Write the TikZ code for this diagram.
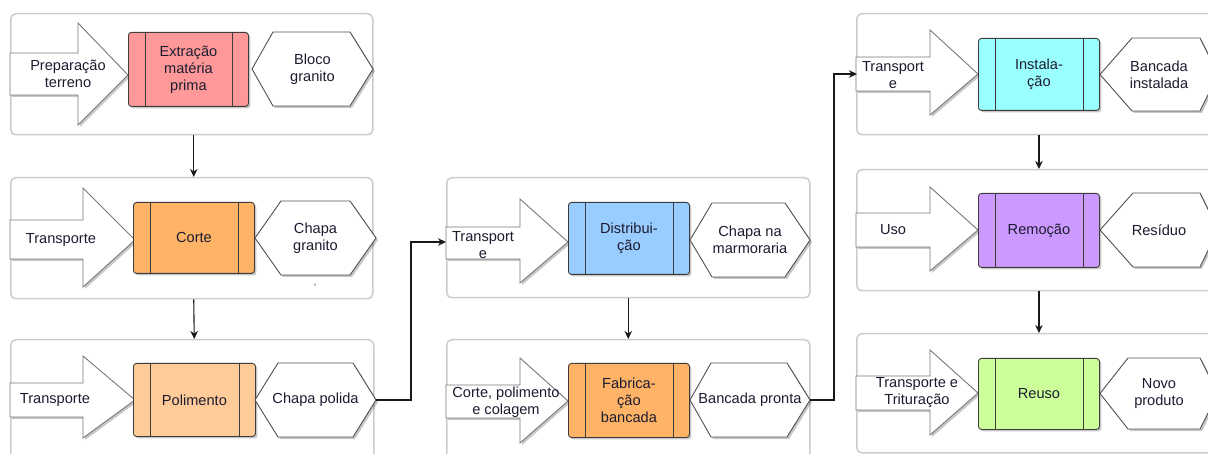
\documentclass[tikz,border=0pt]{standalone}
\usepackage{fontspec}
\setmainfont{Liberation Sans}
\usetikzlibrary{shadows,arrows.meta,calc}

\definecolor{txt}{RGB}{28,28,48}
\definecolor{framegray}{RGB}{204,204,204}
\definecolor{edgegray}{RGB}{60,60,60}
\definecolor{arrowgray}{RGB}{120,120,120}
\definecolor{hexgray}{RGB}{80,80,80}
\definecolor{fillred}{HTML}{FF9999}
\definecolor{fillorange}{HTML}{FFB366}
\definecolor{filllightorange}{HTML}{FFCC99}
\definecolor{fillblue}{HTML}{99CCFF}
\definecolor{fillcyan}{HTML}{99FFFF}
\definecolor{fillpurple}{HTML}{CC99FF}
\definecolor{fillgreen}{HTML}{CCFF99}

\tikzset{
  panel/.style={draw=framegray, line width=1.5pt, rounded corners=5pt, fill=white,
    anchor=north west, inner sep=0pt},
  softshadow/.style={drop shadow={shadow xshift=2pt, shadow yshift=-2pt,
    fill=black, opacity=0.22}},
  inarrow/.style={draw=arrowgray, line width=0.9pt, fill=white, softshadow},
  hexbox/.style={draw=hexgray, line width=0.9pt, fill=white, softshadow},
  procbox/.style={draw=edgegray, line width=0.9pt, rounded corners=3pt,
    anchor=north west, inner sep=0pt, softshadow},
  divider/.style={draw=edgegray, line width=0.8pt},
  label/.style={text=txt, align=center, inner sep=0pt,
    font=\fontsize{14.6}{17}\selectfont},
  link/.style={draw=black!90, line width=1.1pt,
    -{Stealth[length=8pt, width=7.5pt, inset=2.5pt]}},
}

% input arrow: x0, shaft top, shaft bottom, head base x, head top, head bottom, tip x, tip y
\newcommand\flowarrow[8]{%
  \path[inarrow] (#1,#2) -- (#4,#2) -- (#4,#5) -- (#7,#8) -- (#4,#6)
    -- (#4,#3) -- (#1,#3) -- cycle;}

% process box: name, x, y, width, height, fill, text
\newcommand\process[7]{%
  \node[procbox, fill=#6, minimum width=#4pt, minimum height=#5pt] (#1) at (#2,#3) {};
  \node[label] at (#1.center) {#7};
  \draw[divider] ([xshift=17pt]#1.north west) -- ([xshift=17pt]#1.south west);
  \draw[divider] ([xshift=-17pt]#1.north east) -- ([xshift=-17pt]#1.south east);}

% output hexagon: name, left x, top-left x, top-right x, right x, top y, bottom y, text
\newcommand\outhex[8]{%
  \path[hexbox] (#2,{(#6+#7)/2}) -- (#3,#6) -- (#4,#6) -- (#5,{(#6+#7)/2})
    -- (#4,#7) -- (#3,#7) -- cycle;
  \node[label] (#1) at ({(#2+#5)/2},{(#6+#7)/2}) {#8};
  \coordinate (#1r) at (#5,{(#6+#7)/2});}

\begin{document}
\begin{tikzpicture}[x=1pt, y=-1pt]
\useasboundingbox (0,0) rectangle (1208,454);
\fill[white] (0,0) rectangle (1208,454);
\clip (0,0) rectangle (1208,454);

% ---- panels ----
\node[panel, minimum width=362pt, minimum height=121pt] (p1) at (10,13) {};
\node[panel, minimum width=362pt, minimum height=121pt] (p2) at (10,177) {};
\node[panel, minimum width=363pt, minimum height=125pt] (p3) at (10,339) {};
\node[panel, minimum width=363pt, minimum height=120pt] (p4) at (446,177) {};
\node[panel, minimum width=363pt, minimum height=125pt] (p5) at (446,339) {};
\node[panel, minimum width=370pt, minimum height=121pt] (p6) at (856,13) {};
\node[panel, minimum width=370pt, minimum height=121pt] (p7) at (856,169) {};
\node[panel, minimum width=370pt, minimum height=119pt] (p8) at (856,333) {};

% ---- input arrows ----
\flowarrow{10}{53}{95}{78}{23}{125}{128}{75}
\flowarrow{10}{220}{259}{83}{188}{287}{135}{240}
\flowarrow{10}{383}{417}{83}{356}{438}{135}{400}
\flowarrow{446}{227}{259}{520}{199}{283}{568}{242}
\flowarrow{446}{385}{418}{520}{358}{443}{568}{401}
\flowarrow{856}{57}{91}{930}{30}{115}{978}{74}
\flowarrow{856}{213}{247}{930}{187}{271}{978}{230}
\flowarrow{856}{376}{410}{930}{350}{435}{978}{393}

\node[label] (t1) at (68,74) {Preparação\\terreno};
\node[label] (t2) at (61,240) {Transporte};
\node[label] (t3) at (55,400) {Transporte};
\node[label] (t4) at (483,245) {Transport\\e};
\node[label] (t5) at (506,402) {Corte, polimento\\e colagem};
\node[label] (t6) at (893,75) {Transport\\e};
\node[label] (t7) at (893,230) {Uso};
\node[label] (t8) at (917,393) {Transporte e\\Trituração};

\coordinate (a4in) at (446,242);
\coordinate (a6in) at (857,74);

% ---- process boxes ----
\process{b1}{128}{32}{120}{74}{fillred}{Extração\\matéria\\prima}
\process{b2}{133}{202}{121}{71}{fillorange}{Corte}
\process{b3}{133}{363}{122}{73}{filllightorange}{Polimento}
\process{b4}{568}{202}{121}{72}{fillblue}{Distribui-\\ção}
\process{b5}{568}{363}{121}{74}{fillorange}{Fabrica-\\ção\\bancada}
\process{b6}{978}{38}{121}{72}{fillcyan}{Instala-\\ção}
\process{b7}{978}{193}{121}{74}{fillpurple}{Remoção}
\process{b8}{978}{358}{121}{71}{fillgreen}{Reuso}

% ---- output hexagons ----
\outhex{h1}{252}{273}{350}{373}{32}{106}{Bloco\\granito}
\outhex{h2}{255}{281}{350}{376}{201}{275}{Chapa\\granito}
\outhex{h3}{255}{278}{353}{376}{363}{437}{Chapa polida}
\outhex{h4}{690}{712}{785}{810}{203}{277}{Chapa na\\marmoraria}
\outhex{h5}{690}{711}{787}{810}{363}{437}{Bancada pronta}
\outhex{h6}{1100}{1132}{1200}{1218}{38}{111}{Bancada\\instalada}
\outhex{h7}{1100}{1133}{1200}{1218}{193}{267}{Resíduo}
\outhex{h8}{1100}{1128}{1200}{1218}{358}{429}{Novo\\produto}

\node[text=txt, inner sep=0pt, font=\fontsize{9}{9}\selectfont] (tick) at (315,287) {'};

% ---- connectors ----
\draw[link] ([xshift=2pt]p1.south) -- ([xshift=2pt]p2.north);
\draw[link] ([xshift=2pt]p2.south) -- ([xshift=2pt]p3.north);
\draw[link] (h3r) -- ($(h3r)+(35,0)$) |- (a4in);
\draw[link] (p4.south) -- (p5.north);
\draw[link] (h5r) -- ($(h5r)+(24,0)$) |- (a6in);
\draw[link] (p6.south -| b6.center) -- (p7.north -| b6.center);
\draw[link] (p7.south -| b7.center) -- (p8.north -| b7.center);
\end{tikzpicture}
\end{document}
